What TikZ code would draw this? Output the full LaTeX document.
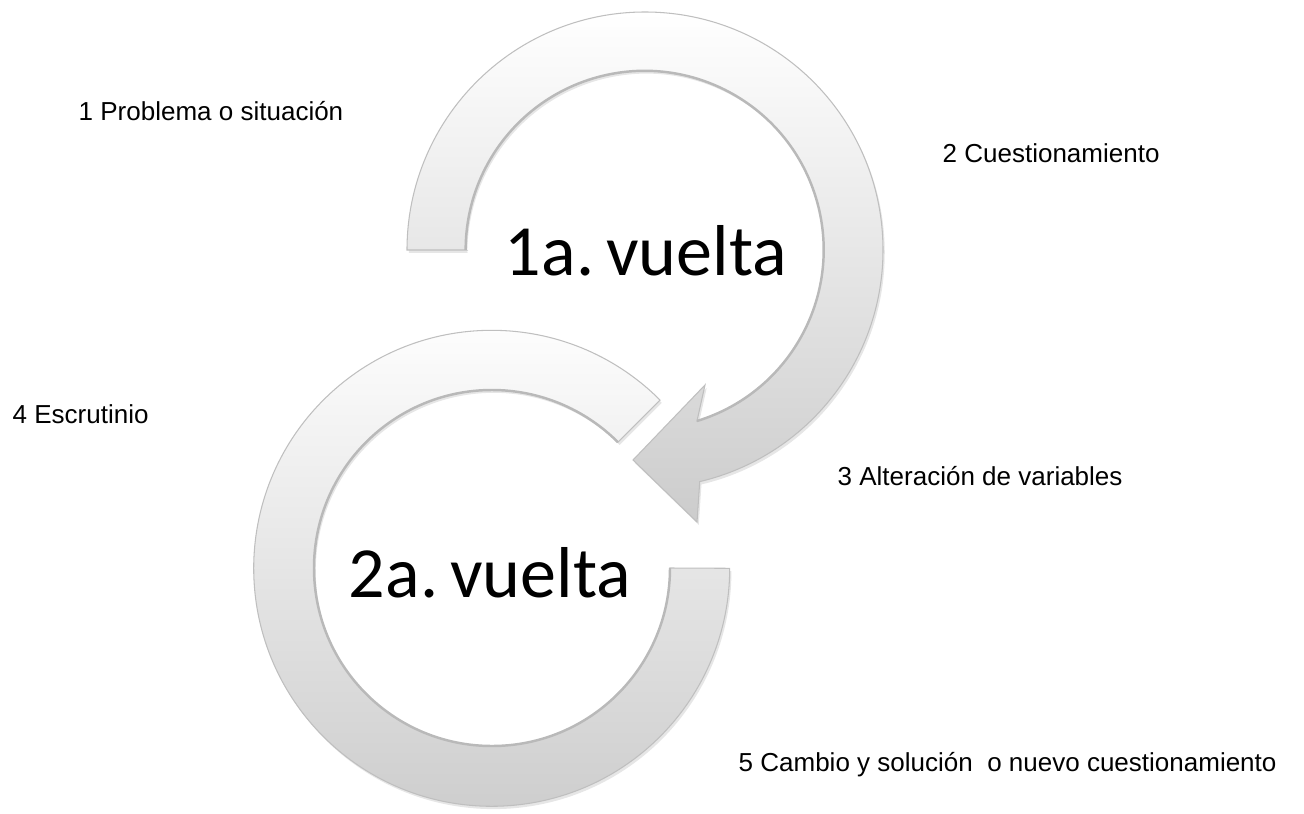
\documentclass[tikz,border=0pt]{standalone}
\usepackage{fontspec}
\setmainfont{Liberation Sans}
\newfontfamily\vueltafont{Carlito}
\usetikzlibrary{shadows}

\tikzset{
  band/.style={draw=gray!50, line width=0.3pt, top color=white, bottom color=gray!40,
    drop shadow={opacity=0.2, shadow xshift=0.5pt, shadow yshift=-0.8pt}},
  rim/.style={draw=gray!55, line width=0.7pt},
  paso/.style={font=\fontsize{7.4}{9}\selectfont, inner sep=0pt},
  vuelta/.style={font=\vueltafont\fontsize{20.5}{24}\selectfont, inner sep=0pt}
}

\begin{document}
\begin{tikzpicture}
  \useasboundingbox (0,0) rectangle (13.04,8.13);
  % 2a vuelta (ring)
  \path[band] (4.92+1.26,2.45+1.26)--(4.92+1.68,2.45+1.68) arc[start angle=45,end angle=360,radius=2.38]
    --(4.92+1.78,2.45) arc[start angle=360,end angle=45,radius=1.78]--cycle;
  \draw[rim] (4.92+1.78,2.45) arc[start angle=360,end angle=45,radius=1.78];
  % 1a vuelta (arrow)
  \path[band] (4.66,5.63)--(4.07,5.63) arc[start angle=180,end angle=-76.7,radius=2.38]
    --(6.97,2.91)--(6.33,3.53)--(7.05,4.28)--(6.97,3.92) arc[start angle=-73,end angle=180,radius=1.79]--cycle;
  \draw[rim] (6.97,3.92) arc[start angle=-73,end angle=180,radius=1.79];

  \node[vuelta,anchor=base] (v1) at (6.46,5.38) {1a.\hspace{0.17em}vuelta};
  \node[vuelta,anchor=base] (v2) at (4.90,2.16) {2a.\hspace{0.17em}vuelta};

  \node[paso,anchor=base west] (p1) at (0.78,6.93) {1 Problema o situación};
  \node[paso,anchor=base west] (p2) at (9.42,6.51) {2 Cuestionamiento};
  \node[paso,anchor=base west] (p3) at (8.37,3.28) {3 Alteración de variables};
  \node[paso,anchor=base west] (p4) at (0.12,3.90) {4 Escrutinio};
  \node[paso,anchor=base west] (p5) at (7.38,0.42) {5 Cambio y solución~ o nuevo cuestionamiento};
\end{tikzpicture}
\end{document}
